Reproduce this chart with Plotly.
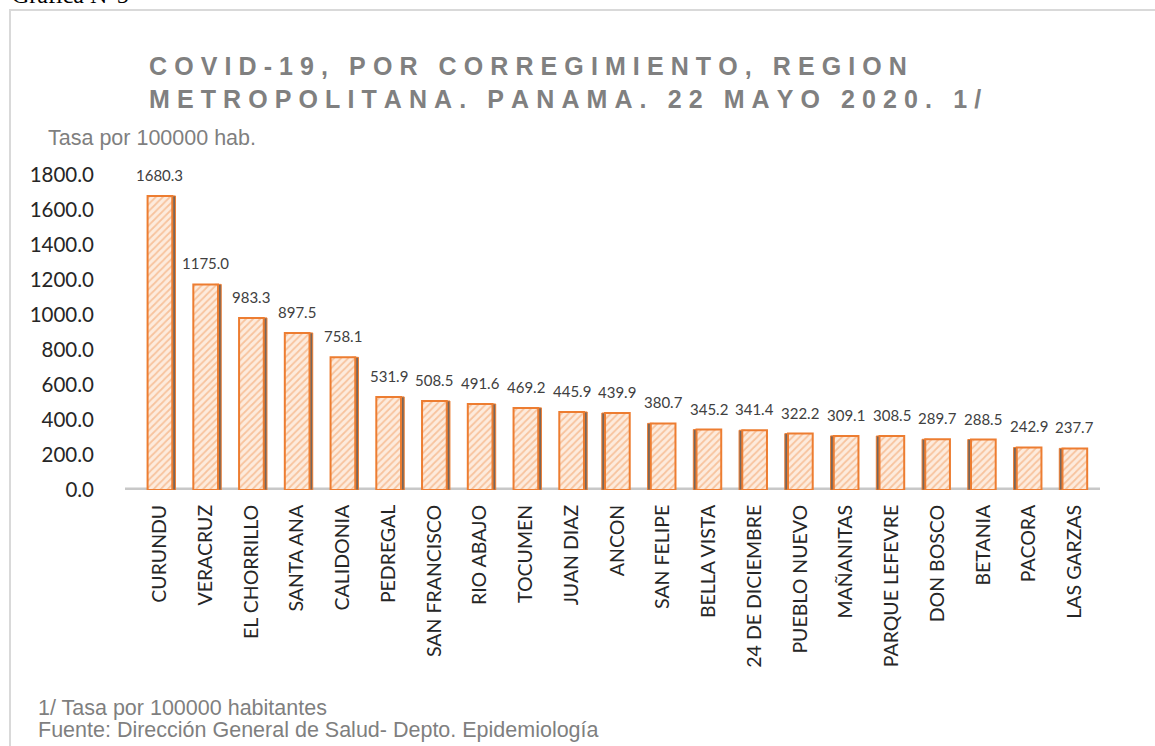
import plotly.graph_objects as go

categories = ["CURUNDU", "VERACRUZ", "EL CHORRILLO", "SANTA ANA", "CALIDONIA", "PEDREGAL",
              "SAN FRANCISCO", "RIO ABAJO", "TOCUMEN", "JUAN DIAZ", "ANCON", "SAN FELIPE",
              "BELLA VISTA", "24 DE DICIEMBRE", "PUEBLO NUEVO", "MAÑANITAS", "PARQUE LEFEVRE",
              "DON BOSCO", "BETANIA", "PACORA", "LAS GARZAS"]
rates = [1680.3, 1175.0, 983.3, 897.5, 758.1, 531.9, 508.5, 491.6, 469.2, 445.9, 439.9,
         380.7, 345.2, 341.4, 322.2, 309.1, 308.5, 289.7, 288.5, 242.9, 237.7]
y_ticks = [0, 200, 400, 600, 800, 1000, 1200, 1400, 1600, 1800]

title_l1 = "COVID-19, POR CORREGIMIENTO, REGION"
title_l2 = "METROPOLITANA. PANAMA. 22 MAYO 2020. 1/"

def spaced(s):
    return "\u2009\u200a".join(list(s))

n = len(categories)
side_offsets = [0.2 if i < n // 2 else -0.34 for i in range(n)]

fig = go.Figure()
fig.add_trace(go.Bar(
    x=categories, y=rates, width=0.14, offset=side_offsets,
    marker=dict(color="#75665c", line=dict(color="#ED7D31", width=1)),
    hoverinfo="skip", showlegend=False,
))
fig.add_trace(go.Bar(
    x=categories, y=rates, width=0.54, offset=-0.27,
    marker=dict(color="#FCE4D6", line=dict(color="#ED7D31", width=2),
                pattern=dict(shape="/", fgcolor="#F29B5E", bgcolor="#FDEBDD", size=5, solidity=0.35)),
    showlegend=False,
))

# page-pixel layout (body margin removed)
Lp, Rp, Tp, Bp = 100, 1100, 175, 490
W, H = Rp - Lp, Bp - Tp
def px(x): return (x - Lp) / W
def py(y): return (Bp - y) / H

label_font = dict(family="Lato, Open Sans, sans-serif", size=15, color="#404040")
annotations = [
    dict(x=c, y=v, xref="x", yref="y", text=f"{v:.1f}", showarrow=False,
         yanchor="bottom", yshift=10, font=label_font)
    for c, v in zip(categories, rates)
]
annotations += [
    dict(text="Gráfica N°5", xref="paper", yref="paper", x=px(10), y=py(10), xanchor="left", yanchor="bottom",
         showarrow=False, font=dict(family="Liberation Serif, Times New Roman, serif", size=24, color="#000")),
    dict(text="<b>" + spaced(title_l1) + "<br>" + spaced(title_l2) + "</b>", xref="paper", yref="paper",
         x=px(147), y=py(83), xanchor="left", yanchor="middle", align="left", showarrow=False,
         font=dict(family="Liberation Sans, Arial, sans-serif", size=25, color="#808080")),
    dict(text="Tasa por 100000 hab.", xref="paper", yref="paper", x=px(46), y=py(138),
         xanchor="left", yanchor="middle", showarrow=False,
         font=dict(family="Liberation Sans, Arial, sans-serif", size=21.5, color="#7f7f7f")),
    dict(text="1/ Tasa por 100000 habitantes", xref="paper", yref="paper", x=px(36), y=py(708),
         xanchor="left", yanchor="middle", showarrow=False,
         font=dict(family="Liberation Sans, Arial, sans-serif", size=21.5, color="#7f7f7f")),
    dict(text="Fuente: Dirección General de Salud- Depto. Epidemiología", xref="paper", yref="paper",
         x=px(36), y=py(730), xanchor="left", yanchor="middle", showarrow=False,
         font=dict(family="Liberation Sans, Arial, sans-serif", size=21.5, color="#7f7f7f")),
]

fig.update_layout(
    width=1155, height=746,
    margin=dict(l=Lp, r=1155 - Rp, t=Tp, b=746 - Bp),
    paper_bgcolor="white", plot_bgcolor="white",
    barmode="overlay",
    xaxis=dict(range=[-1.31, 20.55], tickangle=-90, showgrid=False, showline=False, zeroline=False,
               tickfont=dict(family="Lato, Open Sans, sans-serif", size=19.5, color="#262626"),
               ticks="outside", ticklen=6, tickcolor="rgba(0,0,0,0)"),
    yaxis=dict(range=[0, 1800], tickvals=y_ticks, ticktext=[f"{v:.1f}" for v in y_ticks],
               showgrid=False, zeroline=False, showline=False,
               tickfont=dict(family="Lato, Open Sans, sans-serif", size=20.5, color="#262626"),
               ticklabelstandoff=5),
    font=dict(family="Liberation Sans, Arial, sans-serif"),
    shapes=[
        dict(type="rect", xref="paper", yref="paper", x0=px(10), x1=px(1175), y0=py(10), y1=py(770),
             line=dict(color="#d9d9d9", width=2), fillcolor="rgba(0,0,0,0)", layer="below"),
        dict(type="line", xref="paper", yref="y", x0=px(125), x1=px(1100), y0=0, y1=0,
             line=dict(color="#c8c8c8", width=5), layer="below"),
    ],
    annotations=annotations,
)

fig.write_html("out.html", config={"displayModeBar": False},
               post_script="document.body.style.margin='0px';")
